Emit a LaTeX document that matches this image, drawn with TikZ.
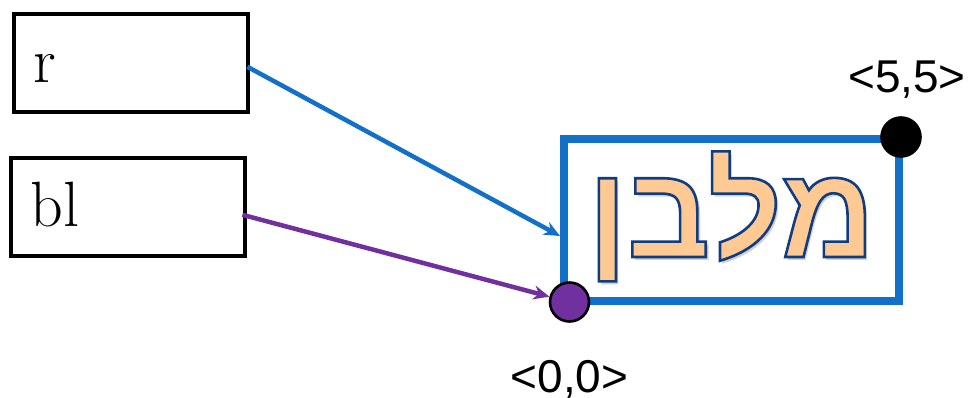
\documentclass[tikz,border=0pt]{standalone}
\usepackage{fontspec}
\newfontfamily\labelfont{Liberation Sans}
\newfontfamily\hebfont[Script=Hebrew]{Liberation Sans}
\TeXXeTstate=1
\usetikzlibrary{arrows.meta,positioning,calc}
\definecolor{rectblue}{RGB}{18,112,200}
\definecolor{ptrpurple}{RGB}{112,48,160}
\definecolor{peach}{RGB}{255,201,148}
\definecolor{inkblue}{RGB}{16,60,128}
% outlined glyphs: fill + stroke text render mode
\newcommand{\outlined}[1]{\special{pdf:literal direct 2 Tr 2.6 w 0.063 0.235 0.5 RG}#1\special{pdf:literal direct 0 Tr}}
\tikzset{
  varbox/.style={
    rectangle, draw=black, line width=4pt,
    minimum width=234pt, minimum height=98pt,
    text width=196pt, inner xsep=19pt, align=left,
    text height=40pt, text depth=0pt,
    font=\fontsize{64}{70}\selectfont
  },
  shapebox/.style={rectangle, draw=rectblue, line width=8pt, minimum width=335pt, minimum height=162pt},
  cornerdot/.style={circle, draw=black, line width=2.6pt, minimum size=39pt, inner sep=0pt},
  coordlabel/.style={font=\labelfont\fontsize{46}{50}\selectfont, inner sep=0pt},
  titletext/.style={font=\hebfont\bfseries\fontsize{130}{136}\selectfont, inner sep=0pt, anchor=base},
  ptrarrow/.style={line width=4.5pt, -{Stealth[length=16pt,width=14pt]}},
}
\begin{document}
\begin{tikzpicture}[x=1pt, y=-1pt]
  \useasboundingbox (0,0) rectangle (969,397);
  \node (r) [varbox] at (131.4,62.8) {r};
  \node (bl) [varbox, below=42pt of r, xshift=-3pt] {bl};
  \node (rect) [shapebox] at (731.5,220) {};
  % the word inside the rectangle, with its soft shadow
  \node (titleshadow) [titletext, text=black!30, opacity=0.6] at ($(rect.center)+(3,40)$) {\beginR מלבן\endR};
  \node (title) [titletext, text=peach] at ($(rect.center)+(0,37)$) {\outlined{\beginR מלבן\endR}};
  \node (topright) [cornerdot, fill=black] at ($(rect.north east)+(-2,2)$) {};
  \node (origin) [cornerdot, fill=ptrpurple] at ($(rect.south west)+(9.5,-3)$) {};
  \node (toplbl) [coordlabel, above=18pt of topright, xshift=6pt] {<5,5>};
  \node (originlbl) [coordlabel, below=37pt of origin] {<0,0>};
  \draw[ptrarrow, rectblue] ($(r.east)+(-3,4)$) -- ($(rect.west)+(0,16)$);
  \draw[ptrarrow, ptrpurple] ($(bl.east)+(-5,8)$) -- (origin);
\end{tikzpicture}
\end{document}
